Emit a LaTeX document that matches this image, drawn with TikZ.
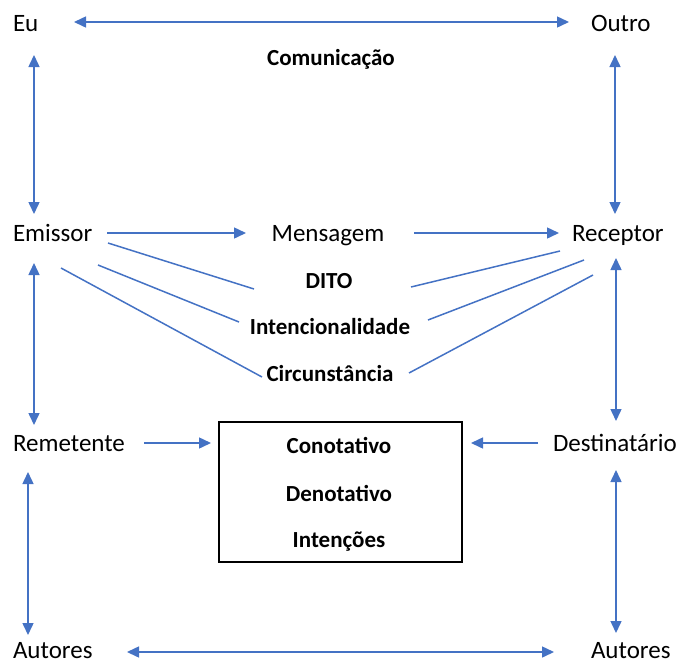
\documentclass[tikz,border=0pt]{standalone}
\usepackage{fontspec}
\setmainfont{Carlito}
\usetikzlibrary{arrows.meta}
\definecolor{arrblue}{HTML}{4472C4}
\tikzset{
  lbl/.style={inner sep=0pt, outer sep=0pt, text height=19pt, text depth=2pt, font=\fontsize{25}{29}\selectfont, anchor=base west},
  lblc/.style={inner sep=0pt, outer sep=0pt, text height=19pt, text depth=2pt, font=\fontsize{25}{29}\selectfont, anchor=base},
  blbl/.style={inner sep=0pt, outer sep=0pt, text height=17pt, text depth=2pt, font=\fontsize{23}{27}\selectfont\bfseries, anchor=base},
  conn/.style={draw=arrblue, line width=1.5pt},
  arr/.style={conn, -{Triangle[length=12pt,width=11pt]}},
  darr/.style={conn, {Triangle[length=12pt,width=11pt]}-{Triangle[length=12pt,width=11pt]}},
  boxstyle/.style={draw=black, line width=1.2pt, inner sep=0pt, outer sep=0pt, minimum width=243pt, minimum height=140pt}
}
\begin{document}
\begin{tikzpicture}[x=1pt,y=-1pt]
\useasboundingbox (0,0) rectangle (683,662);
% labels
\node[lbl] (eu) at (13,31) {Eu};
\node[lbl] (outro) at (591,31) {Outro};
\node[blbl] (com) at (331,65) {Comunicação};
\node[lbl] (emissor) at (13,241) {Emissor};
\node[lblc] (mensagem) at (328,241) {Mensagem};
\node[lbl] (receptor) at (572,241) {Receptor};
\node[blbl] (dito) at (329,288) {DITO};
\node[blbl] (intenc) at (330,334) {Intencionalidade};
\node[blbl] (circ) at (330,381) {Circunstância};
\node[lbl] (remetente) at (13,451) {Remetente};
\node[lbl] (destinatario) at (553,451) {Destinatário};
\node[boxstyle] (box) at (340.5,492) {};
\node[blbl] (cono) at (339,453) {Conotativo};
\node[blbl] (deno) at (339,501) {Denotativo};
\node[blbl] (inten) at (339,547) {Intenções};
\node[lbl] (autoresL) at (13,658) {Autores};
\node[lbl] (autoresR) at (591,658) {Autores};
% arrows
\draw[darr] ([shift={(61,-9)}]eu.base west) -- ([shift={(-22,-9)}]outro.base west);
\draw[darr] ([shift={(21,24)}]eu.base west) -- ([shift={(21,-27)}]emissor.base west);
\draw[darr] ([shift={(24,24)}]outro.base west) -- ([shift={(43,-27)}]receptor.base west);
\draw[arr] ([shift={(94,-8)}]emissor.base west) -- ([shift={(-82,-8)}]mensagem.base);
\draw[arr] ([shift={(86,-8)}]mensagem.base) -- ([shift={(-13,-8)}]receptor.base west);
\draw[darr] ([shift={(21,22)}]emissor.base west) -- ([shift={(21,-26)}]remetente.base west);
\draw[darr] ([shift={(44,17)}]receptor.base west) -- ([shift={(63,-30)}]destinatario.base west);
\draw[arr] ([shift={(131,-8)}]remetente.base west) -- ([shift={(-8,21)}]box.north west);
\draw[arr] ([shift={(-15,-8)}]destinatario.base west) -- ([shift={(9,21)}]box.north east);
\draw[darr] ([shift={(15,21)}]remetente.base west) -- ([shift={(15,-23)}]autoresL.base west);
\draw[darr] ([shift={(63,19)}]destinatario.base west) -- ([shift={(25,-25)}]autoresR.base west);
\draw[darr] ([shift={(114,-6)}]autoresL.base west) -- ([shift={(-37,-6)}]autoresR.base west);
% plain lines
\draw[conn] ([shift={(95,2)}]emissor.base west) -- ([shift={(-75,1)}]dito.base);
\draw[conn] ([shift={(85,24)}]emissor.base west) -- ([shift={(-91,-12)}]intenc.base);
\draw[conn] ([shift={(48,27)}]emissor.base west) -- ([shift={(-68,-4)}]circ.base);
\draw[conn] ([shift={(82,-1)}]dito.base) -- ([shift={(-12,10)}]receptor.base west);
\draw[conn] ([shift={(98,-14)}]intenc.base) -- ([shift={(12,19)}]receptor.base west);
\draw[conn] ([shift={(79,-8)}]circ.base) -- ([shift={(21,34)}]receptor.base west);
\end{tikzpicture}
\end{document}
